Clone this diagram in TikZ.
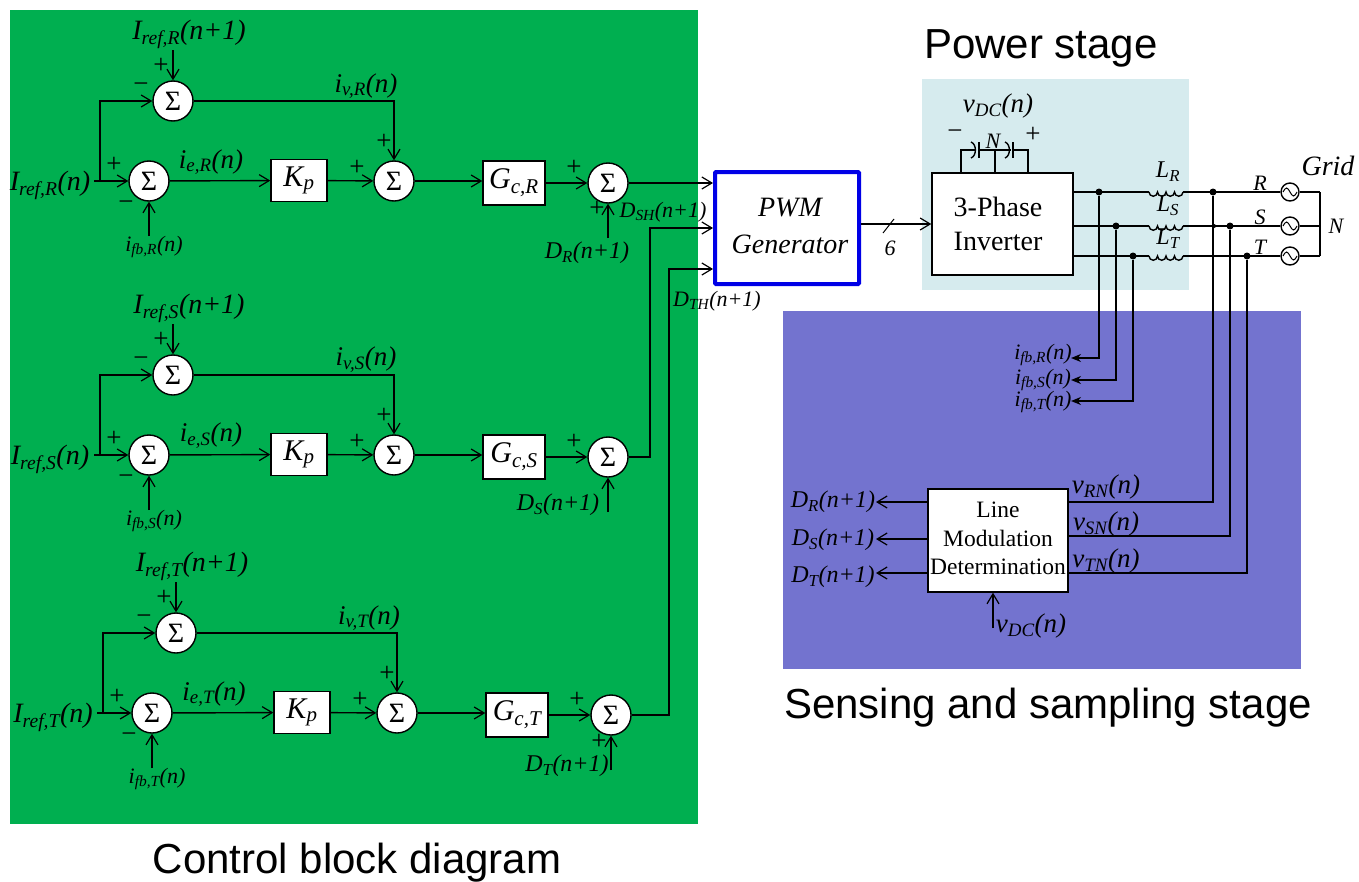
\documentclass[tikz,border=0pt]{standalone}
\usepackage{fontspec}
\setmainfont{Liberation Serif}
\newfontfamily\titlefont{Liberation Sans}
\usetikzlibrary{arrows.meta,positioning,calc}
\newcommand{\lab}[2]{\textit{#1\textsubscript{#2}}}
\newcommand{\fsize}[1]{\fontsize{#1}{#1}\selectfont}

\begin{document}
\begin{tikzpicture}[x=1pt,y=-1pt,line width=1.4pt,
    >={Straight Barb[length=10pt,width=12pt,line width=1.2pt]}]
\definecolor{ctrl area}{HTML}{00AF50}
\definecolor{power area}{HTML}{D6EBEE}
\definecolor{sense area}{HTML}{7373CF}
\definecolor{pwm edge}{HTML}{0000E6}
\tikzset{
     area/.style={inner sep=0pt,outer sep=0pt},
     sumnode/.style={circle,draw,fill=white,minimum size=40pt,inner sep=0pt,font=\fsize{28}},
     gainbox/.style={draw,fill=white,inner sep=0pt,font=\fsize{30}},
     biglabel/.style={inner sep=0pt,yshift=-2pt,font=\itshape\fsize{28}},
     vilabel/.style={inner sep=0pt,yshift=-2pt,font=\itshape\fsize{27}},
     midlabel/.style={inner sep=0pt,yshift=-1pt,font=\itshape\fsize{24}},
     smalllabel/.style={inner sep=0pt,yshift=-1pt,font=\itshape\fsize{22}},
     signmark/.style={inner sep=0pt,font=\fsize{27}},
     stagetitle/.style={inner sep=0pt,yshift=-3pt,font=\titlefont\fsize{42}},
     blocktext/.style={inner sep=0pt,font=\fsize{28}},
     linetext/.style={inner sep=0pt,font=\fsize{23.5}},
     phasedot/.style={circle,fill,inner sep=0pt,minimum size=7pt},
     srcnode/.style={circle,draw,inner sep=0pt,minimum size=18pt},
     fbarrow/.style={-{Stealth[length=10pt,width=8pt]}}}
\useasboundingbox (0,0) rectangle (1359,881);

% The coloured areas
\node (ctrlarea) [area,fill=ctrl area,minimum width=688pt,minimum height=814pt] at (354,417) {};
\node (powerarea) [area,fill=power area,minimum width=267pt,minimum height=211pt] at (1055.5,184.5) {};
\node (sensearea) [area,fill=sense area,minimum width=518pt,minimum height=358pt] at (1042,490) {};
\node (powertitle) [stagetitle] at (1041,45) {Power stage};
\node (sensetitle) [stagetitle] at (1048,705) {Sensing and sampling stage};
\node (ctrltitle) [stagetitle] at (357,860) {Control block diagram};

% The three control branches
\foreach \ph/\dx/\dy/\lx/\ly in {R/0/0/587/252,S/0/274/558/230,T/3/532/564/233}{
\begin{scope}[shift={(\dx,\dy)}]
  \node (suma\ph) [sumnode] at (173,101) {Σ};
  \node (sumb\ph) [sumnode] at (149,181) {Σ};
  \node (sumc\ph) [sumnode] at (394,181) {Σ};
  \node (sumd\ph) [sumnode] at (608,183) {Σ};
  \node (kp\ph) [gainbox,minimum width=56pt,minimum height=42pt] at (299,180.5) {\lab{K}{p}};
  \node (gc\ph) [gainbox,minimum width=62pt,minimum height=44pt] at (514,183) {\lab{G}{c,\ph}};

  % The labels
  \node (iin\ph) [biglabel] at (50,183) {\lab{I}{ref,\ph}(n)};
  \node (iref\ph) [biglabel] at (189,32) {\lab{I}{ref,\ph}(n+1)};
  \node (iv\ph) [vilabel] at (366,84) {\lab{i}{v,\ph}(n)};
  \node (ie\ph) [vilabel] at (211,160) {\lab{i}{e,\ph}(n)};
  \node (ifb\ph) [smalllabel] at (154,246) {\lab{i}{fb,\ph}(n)};
  \node (dl\ph) [midlabel] at (\lx,\ly) {\lab{D}{\ph}(n+1)};

  \node (pa\ph) [signmark] at (161,66) {+};
  \node (ma\ph) [signmark] at (141,88) {−};
  \node (pb\ph) [signmark] at (114,165) {+};
  \node (mb\ph) [signmark] at (126,206) {−};
  \node (pc\ph) [signmark] at (357,168) {+};
  \node (pd\ph) [signmark] at (384,142) {+};
  \node (pe\ph) [signmark] at (574,168) {+};

  % The wires
  \coordinate (start\ph) at (94,181);
  \coordinate (split\ph) at (100,181);
  \coordinate (reftop\ph) at (173,50);
  \coordinate (fbend\ph) at (149,236);
  \coordinate (dend\ph) at (608,238);
  \draw [->] (start\ph) -- (sumb\ph);
  \draw [->] (split\ph) |- (suma\ph);
  \draw [->] (reftop\ph) -- (suma\ph);
  \draw [->] (fbend\ph) -- (sumb\ph);
  \draw [->] (sumb\ph) -- (kp\ph);
  \draw [->] (kp\ph) -- (sumc\ph);
  \draw [->] (suma\ph) -| (sumc\ph);
  \draw [->] (sumc\ph) -- (sumc\ph -| gc\ph.west);
  \draw [->] (gc\ph) -- (sumd\ph);
  \draw [->] (dend\ph) -- (sumd\ph);
\end{scope}
}
\node (peR) [signmark] at (597,209) {+};
\node (peT) [signmark] at (599,742) {+};

% The PWM block
\node (pwm) [draw=pwm edge,fill=white,line width=4pt,rounded corners=1pt,minimum width=144pt,minimum height=112pt] at (787,228) {};
\node (pwmone) [blocktext,font=\itshape\fsize{28}] at (790,208) {PWM};
\node (pwmtwo) [blocktext,font=\itshape\fsize{28}] at (790,244) {Generator};
\node (dsh) [midlabel,font=\itshape\fsize{22}] at (663,211) {\lab{D}{SH}(n+1)};
\node (dth) [midlabel,font=\itshape\fsize{22}] at (717,300) {\lab{D}{TH}(n+1)};

\coordinate (pwmr) at (pwm.west |- sumdR);
\coordinate (pwms) at ([yshift=0pt]pwm.west);
\coordinate (pwmt) at ($(pwm.west)+(0,41)$);
\draw [->] (sumdR) -- (pwmr);
\draw [->] (sumdS) -- +(42,0) |- (pwms);
\draw [->] (sumdT) -- +(58,0) |- (pwmt);

% The inverter
\node (inv) [draw,fill=white,minimum width=141pt,minimum height=102pt] at (1002.5,224) {};
\node (invone) [blocktext] at (998,207) {3-Phase};
\node (invtwo) [blocktext] at (998,241) {Inverter};
\node (six) [midlabel,font=\itshape\fsize{22}] at (890,247) {6};
\draw [->] (pwm.east |- inv.west) -- (inv.west);
\coordinate (slashlow) at (883,233);
\coordinate (slashtop) at (894,219);
\draw [line width=1pt] (slashlow) -- (slashtop);

% The DC link
\node (vdc) [vilabel] at (998,104) {\lab{v}{DC}(n)};
\node (capn) [smalllabel] at (993,140) {N};
\node (capm) [signmark] at (955,135) {−};
\node (capp) [signmark] at (1033,135) {+};
\coordinate (capl) at (961,150);
\coordinate (capc) at (995,150);
\coordinate (capr) at (1028,150);
\draw (capl |- inv.north) -- (capl) -- (976,150);
\draw (979,150) -- (1011,150);
\draw (1013,150) -- (capr) -- (capr |- inv.north);
\draw (capc) -- (capc |- inv.north);
\draw (979,142) -- (979,158);
\draw (1013,142) -- (1013,158);
\draw (971,142) to[bend left=70] (971,158);
\draw (1005,142) to[bend left=70] (1005,158);

% The phases and the grid
\foreach \ph/\py/\lsize in {R/192/171,S/226/205,T/256/238}{
  \coordinate (invout\ph) at (inv.east |- 0,\py);
  \coordinate (coila\ph) at (1149,\py);
  \coordinate (coilb\ph) at (1183,\py);
  \node (src\ph) [srcnode] at (1290,\py) {};
  \node (lbl\ph) [midlabel] at (1168,\lsize) {\lab{L}{\ph}};
  \node (gl\ph) [midlabel,font=\itshape\fsize{22}] at (1260,\py-10) {\ph};
  \draw (invout\ph) -- (coila\ph);
  \draw (coila\ph) arc (180:0:4.25) arc (180:0:4.25) arc (180:0:4.25) arc (180:0:4.25);
  \draw (coilb\ph) -- (src\ph);
  \draw [line width=1pt] ([xshift=-7pt]src\ph.center) sin +(3.5,-4) cos +(3.5,4) sin +(3.5,4) cos +(3.5,-4);
  \draw (src\ph) -- (1320,\py);
}
\draw (1320,192) -- (1320,256);
\node (grid) [biglabel] at (1328,164) {Grid};
\node (gridn) [smalllabel] at (1336,225) {N};

% The sensing taps
\node (tapa) [phasedot] at (1099,192) {};
\node (tapb) [phasedot] at (1116,226) {};
\node (tapc) [phasedot] at (1133,256) {};
\node (tapd) [phasedot] at (1213,192) {};
\node (tape) [phasedot] at (1230,226) {};
\node (tapf) [phasedot] at (1247,256) {};
\node (tapg) [phasedot,minimum size=4pt] at (1214,226) {};

\node (fbr) [smalllabel] at (1043,354) {\lab{i}{fb,R}(n)};
\node (fbs) [smalllabel] at (1043,379) {\lab{i}{fb,S}(n)};
\node (fbt) [smalllabel] at (1043,401) {\lab{i}{fb,T}(n)};
\coordinate (fbra) at (1071,358);
\coordinate (fbsa) at (1071,380);
\coordinate (fbta) at (1071,401);
\draw [fbarrow] (tapa) |- (fbra);
\draw [fbarrow] (tapb) |- (fbsa);
\draw [fbarrow] (tapc) |- (fbta);

% The line modulation block
\node (lmd) [draw,fill=white,minimum width=140pt,minimum height=103pt] at (998,540.5) {};
\node (lmdone) [linetext] at (998,510) {Line};
\node (lmdtwo) [linetext] at (998,538) {Modulation};
\node (lmdthree) [linetext] at (998,567) {Determination};

\node (vrn) [vilabel] at (1106,485) {\lab{v}{RN}(n)};
\node (vsn) [vilabel] at (1106,522) {\lab{v}{SN}(n)};
\node (vtn) [vilabel] at (1106,559) {\lab{v}{TN}(n)};
\coordinate (lmdr) at (lmd.east |- 0,502);
\coordinate (lmds) at (lmd.east |- 0,536);
\coordinate (lmdt) at (lmd.east |- 0,573);
\draw (tapd) |- (lmdr);
\draw (tape) |- (lmds);
\draw (tapf) |- (lmdt);

\node (lr) [midlabel] at (833,501) {\lab{D}{R}(n+1)};
\node (ls) [midlabel] at (833,539) {\lab{D}{S}(n+1)};
\node (lt) [midlabel] at (833,576) {\lab{D}{T}(n+1)};
\coordinate (outr) at (876,502);
\coordinate (outs) at (876,539);
\coordinate (outt) at (876,573);
\draw [->] (lmd.west |- outr) -- (outr);
\draw [->] (lmd.west |- outs) -- (outs);
\draw [->] (lmd.west |- outt) -- (outt);

\node (vdcin) [vilabel] at (1031,624) {\lab{v}{DC}(n)};
\coordinate (vdcend) at (993,628);
\draw [->] (vdcend) -- (vdcend |- lmd.south);
\end{tikzpicture}
\end{document}
